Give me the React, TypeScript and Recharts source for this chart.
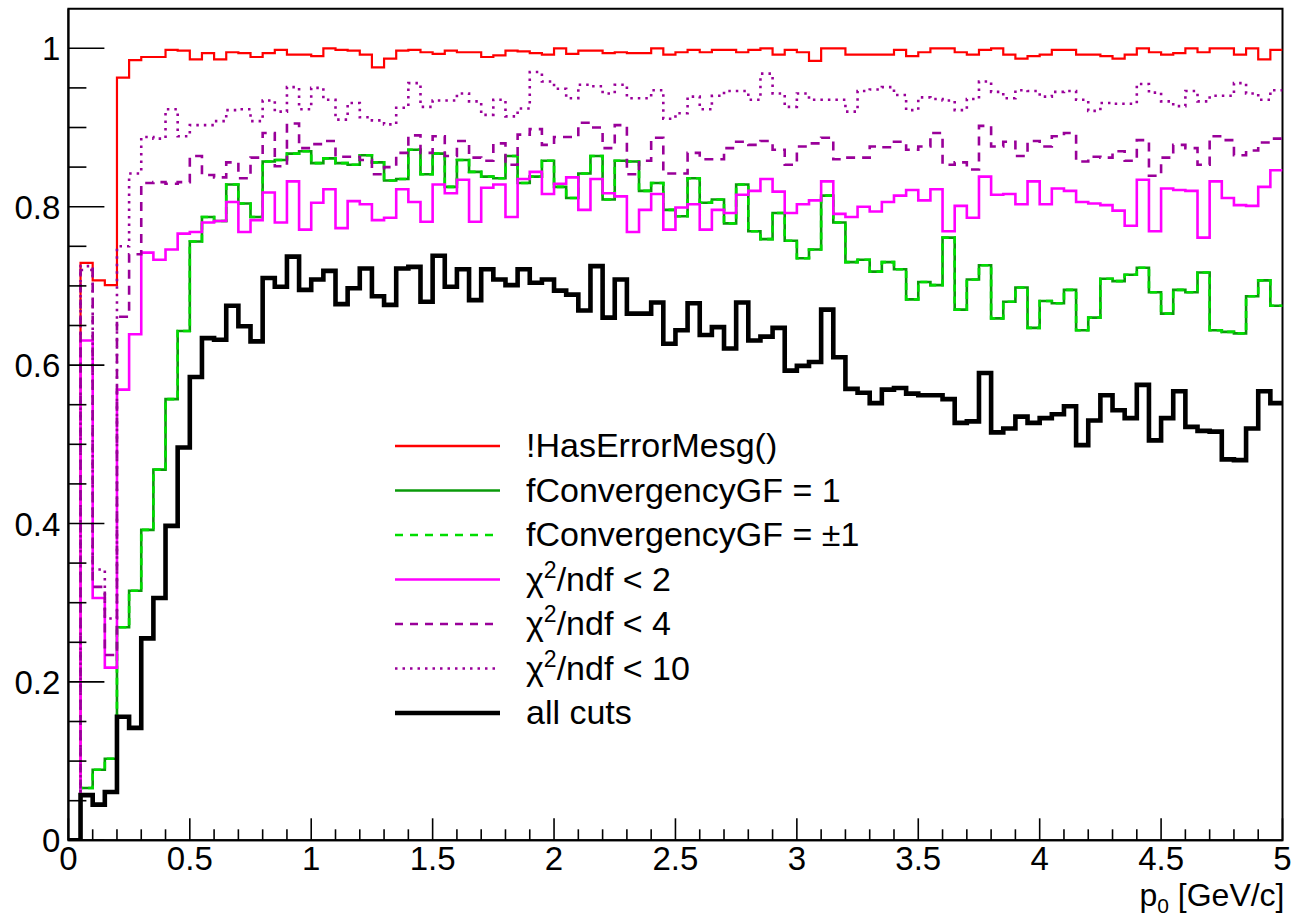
import React from 'react';
import { LineChart, Line, XAxis, YAxis, ReferenceArea } from 'recharts';

// 100 bins of width 0.05 GeV/c from 0 to 5
const binWidth = 0.05;
const nBins = 100;

const hasErrorMesg = [
  0, 0.729, 0.707, 0.701, 0.963, 0.985, 0.989, 0.989, 0.998, 0.997,
  0.986, 0.994, 0.986, 0.995, 0.994, 0.989, 0.994, 0.998, 0.992, 0.992,
  0.990, 1.0, 0.998, 0.997, 0.992, 0.976, 0.987, 0.997, 0.998, 0.995,
  0.993, 0.997, 0.995, 0.995, 0.989, 0.991, 0.997, 0.996, 0.994, 0.992,
  1.0, 0.993, 0.997, 0.997, 0.994, 0.995, 0.994, 0.994, 1.0, 0.992,
  0.995, 0.998, 0.995, 0.998, 0.998, 0.995, 0.998, 1.0, 0.992, 0.998,
  0.995, 0.984, 1.0, 1.0, 0.992, 0.992, 0.992, 0.992, 0.998, 0.990,
  0.995, 1.0, 1.0, 0.995, 0.992, 0.998, 1.0, 0.992, 0.987, 0.990,
  0.992, 0.998, 0.998, 0.992, 0.992, 0.990, 0.987, 0.992, 1.0, 0.995,
  0.992, 0.994, 1.0, 0.995, 1.0, 1.0, 0.992, 1.0, 0.986, 0.998,
];

const convergency1 = [
  0, 0.066, 0.089, 0.103, 0.269, 0.315, 0.392, 0.468, 0.557, 0.643,
  0.756, 0.787, 0.782, 0.828, 0.804, 0.787, 0.857, 0.859, 0.867, 0.870,
  0.855, 0.861, 0.855, 0.853, 0.865, 0.856, 0.833, 0.835, 0.872, 0.841,
  0.867, 0.825, 0.859, 0.844, 0.838, 0.836, 0.864, 0.830, 0.838, 0.858,
  0.825, 0.811, 0.842, 0.864, 0.809, 0.858, 0.857, 0.820, 0.830, 0.796,
  0.788, 0.836, 0.805, 0.809, 0.779, 0.828, 0.769, 0.759, 0.792, 0.757,
  0.735, 0.746, 0.814, 0.780, 0.730, 0.733, 0.718, 0.730, 0.721, 0.683,
  0.705, 0.701, 0.761, 0.670, 0.708, 0.726, 0.659, 0.680, 0.698, 0.647,
  0.681, 0.678, 0.695, 0.644, 0.660, 0.709, 0.706, 0.714, 0.723, 0.692,
  0.665, 0.695, 0.692, 0.717, 0.644, 0.642, 0.640, 0.687, 0.707, 0.675,
];

// fConvergencyGF = ±1 coincides with fConvergencyGF = 1 in the picture
const convergencyPm1 = [
  0, 0.066, 0.089, 0.103, 0.269, 0.315, 0.392, 0.468, 0.557, 0.643,
  0.756, 0.787, 0.782, 0.828, 0.804, 0.787, 0.857, 0.859, 0.867, 0.870,
  0.855, 0.861, 0.855, 0.853, 0.865, 0.856, 0.833, 0.835, 0.872, 0.841,
  0.867, 0.825, 0.859, 0.844, 0.838, 0.836, 0.864, 0.830, 0.838, 0.858,
  0.825, 0.811, 0.842, 0.864, 0.809, 0.858, 0.857, 0.820, 0.830, 0.796,
  0.788, 0.836, 0.805, 0.809, 0.779, 0.828, 0.769, 0.759, 0.792, 0.757,
  0.735, 0.746, 0.814, 0.780, 0.730, 0.733, 0.718, 0.730, 0.721, 0.683,
  0.705, 0.701, 0.761, 0.670, 0.708, 0.726, 0.659, 0.680, 0.698, 0.647,
  0.681, 0.678, 0.695, 0.644, 0.660, 0.709, 0.706, 0.714, 0.723, 0.692,
  0.665, 0.695, 0.692, 0.717, 0.644, 0.642, 0.640, 0.687, 0.707, 0.675,
];

const chi2lt2 = [
  0, 0.631, 0.306, 0.218, 0.569, 0.639, 0.742, 0.733, 0.746, 0.766,
  0.768, 0.780, 0.782, 0.806, 0.768, 0.783, 0.818, 0.780, 0.832, 0.771,
  0.805, 0.822, 0.773, 0.807, 0.803, 0.783, 0.786, 0.822, 0.806, 0.781,
  0.828, 0.817, 0.834, 0.781, 0.824, 0.828, 0.787, 0.835, 0.844, 0.816,
  0.829, 0.837, 0.796, 0.835, 0.817, 0.813, 0.768, 0.796, 0.816, 0.771,
  0.799, 0.803, 0.771, 0.796, 0.792, 0.815, 0.820, 0.835, 0.819, 0.792,
  0.803, 0.808, 0.832, 0.791, 0.787, 0.800, 0.794, 0.806, 0.814, 0.821,
  0.808, 0.822, 0.769, 0.801, 0.786, 0.838, 0.815, 0.816, 0.803, 0.832,
  0.803, 0.823, 0.820, 0.806, 0.804, 0.802, 0.795, 0.776, 0.834, 0.769,
  0.823, 0.821, 0.820, 0.761, 0.832, 0.811, 0.802, 0.801, 0.825, 0.846,
];

const chi2lt4 = [
  0, 0.720, 0.320, 0.234, 0.661, 0.740, 0.830, 0.831, 0.829, 0.831,
  0.864, 0.840, 0.837, 0.856, 0.836, 0.862, 0.893, 0.851, 0.905, 0.874,
  0.879, 0.883, 0.863, 0.863, 0.859, 0.841, 0.850, 0.868, 0.890, 0.868,
  0.889, 0.864, 0.883, 0.862, 0.858, 0.880, 0.853, 0.891, 0.898, 0.878,
  0.888, 0.888, 0.906, 0.900, 0.874, 0.903, 0.841, 0.858, 0.887, 0.842,
  0.842, 0.868, 0.860, 0.860, 0.874, 0.882, 0.878, 0.883, 0.872, 0.853,
  0.876, 0.880, 0.887, 0.860, 0.862, 0.862, 0.876, 0.875, 0.882, 0.872,
  0.876, 0.893, 0.853, 0.856, 0.847, 0.902, 0.876, 0.882, 0.864, 0.883,
  0.876, 0.889, 0.893, 0.857, 0.863, 0.862, 0.870, 0.858, 0.884, 0.839,
  0.862, 0.878, 0.874, 0.853, 0.889, 0.884, 0.865, 0.871, 0.881, 0.886,
];

const chi2lt10 = [
  0, 0.725, 0.342, 0.280, 0.750, 0.842, 0.888, 0.886, 0.923, 0.889,
  0.903, 0.903, 0.908, 0.922, 0.923, 0.908, 0.934, 0.920, 0.951, 0.923,
  0.950, 0.935, 0.910, 0.931, 0.913, 0.909, 0.904, 0.925, 0.956, 0.926,
  0.934, 0.934, 0.943, 0.933, 0.916, 0.935, 0.914, 0.924, 0.970, 0.958,
  0.949, 0.937, 0.954, 0.952, 0.943, 0.954, 0.937, 0.937, 0.947, 0.911,
  0.918, 0.939, 0.923, 0.940, 0.946, 0.946, 0.935, 0.968, 0.943, 0.926,
  0.943, 0.935, 0.935, 0.935, 0.920, 0.946, 0.948, 0.951, 0.941, 0.922,
  0.938, 0.936, 0.934, 0.922, 0.936, 0.958, 0.945, 0.937, 0.947, 0.946,
  0.939, 0.945, 0.946, 0.935, 0.921, 0.931, 0.930, 0.930, 0.955, 0.944,
  0.933, 0.927, 0.946, 0.933, 0.940, 0.940, 0.956, 0.943, 0.935, 0.947,
];

const allCuts = [
  0, 0.057, 0.045, 0.061, 0.156, 0.142, 0.255, 0.306, 0.397, 0.496,
  0.585, 0.634, 0.632, 0.675, 0.649, 0.630, 0.710, 0.699, 0.737, 0.695,
  0.708, 0.719, 0.677, 0.697, 0.722, 0.687, 0.676, 0.722, 0.724, 0.680,
  0.738, 0.699, 0.721, 0.682, 0.721, 0.708, 0.701, 0.721, 0.704, 0.708,
  0.694, 0.689, 0.669, 0.725, 0.660, 0.708, 0.665, 0.665, 0.679, 0.627,
  0.644, 0.678, 0.638, 0.648, 0.621, 0.679, 0.631, 0.636, 0.647, 0.593,
  0.599, 0.604, 0.670, 0.610, 0.570, 0.565, 0.552, 0.569, 0.571, 0.564,
  0.562, 0.562, 0.557, 0.527, 0.529, 0.590, 0.515, 0.520, 0.535, 0.527,
  0.533, 0.538, 0.548, 0.499, 0.530, 0.562, 0.543, 0.533, 0.575, 0.505,
  0.533, 0.567, 0.522, 0.517, 0.516, 0.481, 0.480, 0.520, 0.567, 0.552,
];

const xTicks = Array.from({ length: 51 }, (_, i) => +(i * 0.1).toFixed(1));
const yTicks = Array.from({ length: 21 }, (_, i) => +(i * 0.05).toFixed(2));

type SeriesDef = {
  key: string;
  label: React.ReactNode;
  color: string;
  width: number;
  dash?: string;
  legendDash?: string;
};

const FONT = '"Liberation Sans", Arial, Helvetica, sans-serif';

const chiLabel = (n: string) => (
  <>
    {'\u03c7'}
    <tspan dy={-13} fontSize={23}>2</tspan>
    <tspan dy={13}>{`/ndf < ${n}`}</tspan>
  </>
);

const series: SeriesDef[] = [
  { key: 'hasErrorMesg', label: '!HasErrorMesg()', color: '#ff0000', width: 2.2 },
  { key: 'convergency1', label: 'fConvergencyGF = 1', color: '#0a9a0a', width: 2.6 },
  { key: 'convergencyPm1', label: 'fConvergencyGF = \u00b11', color: '#00dd00', width: 2.6, dash: '7 5', legendDash: '8 7' },
  { key: 'chi2lt2', label: chiLabel('2'), color: '#ff00ff', width: 2.6 },
  { key: 'chi2lt4', label: chiLabel('4'), color: '#990099', width: 2.6, dash: '9 7', legendDash: '8 7' },
  { key: 'chi2lt10', label: chiLabel('10'), color: '#990099', width: 2.6, dash: '2.5 5', legendDash: '2.5 5' },
  { key: 'allCuts', label: 'all cuts', color: '#000000', width: 4.6 },
];

const valuesByKey: Record<string, number[]> = {
  hasErrorMesg,
  convergency1,
  convergencyPm1,
  chi2lt2,
  chi2lt4,
  chi2lt10,
  allCuts,
};

// histogram table: one row per bin lower edge, plus closing row at the upper edge
const data = Array.from({ length: nBins + 1 }, (_, i) => {
  const j = Math.min(i, nBins - 1);
  const row: Record<string, number> = { x: +(i * binWidth).toFixed(2) };
  for (const s of series) row[s.key] = valuesByKey[s.key][j];
  return row;
});

const XTick = (props: any) => {
  const { x, y, payload } = props;
  const v = payload.value as number;
  const major = Math.abs(v * 2 - Math.round(v * 2)) < 1e-6;
  return (
    <g>
      <line x1={x} x2={x} y1={y} y2={y - (major ? 22 : 11)} stroke="#000" strokeWidth={1.6} />
      {major && (
        <text x={x} y={y + 30} textAnchor="middle" fontFamily={FONT} fontSize={33} fill="#000">
          {String(v)}
        </text>
      )}
    </g>
  );
};

const YTick = (props: any) => {
  const { x, y, payload } = props;
  const v = payload.value as number;
  const major = Math.abs(v * 5 - Math.round(v * 5)) < 1e-6;
  return (
    <g>
      <line x1={x} x2={x + (major ? 36 : 18)} y1={y} y2={y} stroke="#000" strokeWidth={1.6} />
      {major && (
        <text x={x - 8} y={y + 12} textAnchor="end" fontFamily={FONT} fontSize={33} fill="#000">
          {String(+v.toFixed(1))}
        </text>
      )}
    </g>
  );
};

const XTitle = (props: any) => {
  const vb = props.viewBox || { x: 68.4, y: 840.3, width: 1214 };
  return (
    <text x={vb.x + vb.width + 2} y={vb.y + 66} textAnchor="end" fontFamily={FONT} fontSize={32} fill="#000">
      p
      <tspan dy={7} fontSize={21}>0</tspan>
      <tspan dy={-7}>{'\u00a0[GeV/c]'}</tspan>
    </text>
  );
};

const LegendOverlay = () => {
  const x0 = 395;
  const x1 = 500;
  const tx = 526;
  const top = 446;
  const step = 44.5;
  return (
    <svg
      width={1291}
      height={918}
      style={{ position: 'absolute', left: 0, top: 0, pointerEvents: 'none' }}
    >
      {series.map((s, i) => {
        const y = top + i * step;
        return (
          <g key={s.key}>
            <line
              x1={x0}
              x2={x1}
              y1={y}
              y2={y}
              stroke={s.color}
              strokeWidth={s.key === 'allCuts' ? 4.6 : 2.6}
              strokeDasharray={s.legendDash}
            />
            <text x={tx} y={y + 11} fontFamily={FONT} fontSize={34} fill="#000">
              {s.label}
            </text>
          </g>
        );
      })}
    </svg>
  );
};

export default function App() {
  return (
    <div style={{ position: 'absolute', left: 0, top: 0, width: 1291, height: 918, background: '#fff' }}>
      <LineChart
        width={1291}
        height={918}
        data={data}
        margin={{ top: 8.7, right: 8.5, bottom: 37.7, left: 8.4 }}
      >
        <XAxis
          type="number"
          dataKey="x"
          domain={[0, 5]}
          ticks={xTicks}
          interval={0}
          height={40}
          tickSize={0}
          tickMargin={0}
          tickLine={false}
          axisLine={{ stroke: '#000', strokeWidth: 2 }}
          tick={<XTick />}
          allowDataOverflow
          label={<XTitle />}
        />
        <YAxis
          type="number"
          domain={[0, 1.05]}
          ticks={yTicks}
          interval={0}
          width={60}
          tickSize={0}
          tickMargin={0}
          tickLine={false}
          axisLine={{ stroke: '#000', strokeWidth: 2 }}
          tick={<YTick />}
          allowDataOverflow
        />
        {series.map((s) => (
          <Line
            key={s.key}
            type="stepAfter"
            dataKey={s.key}
            stroke={s.color}
            strokeWidth={s.width}
            strokeDasharray={s.dash}
            dot={false}
            activeDot={false}
            isAnimationActive={false}
            strokeLinejoin="miter"
            strokeLinecap="butt"
          />
        ))}
        <ReferenceArea
          x1={0}
          x2={5}
          y1={0}
          y2={1.05}
          fill="none"
          fillOpacity={0}
          stroke="#000"
          strokeWidth={2}
          ifOverflow="visible"
        />
      </LineChart>
      <LegendOverlay />
    </div>
  );
}
